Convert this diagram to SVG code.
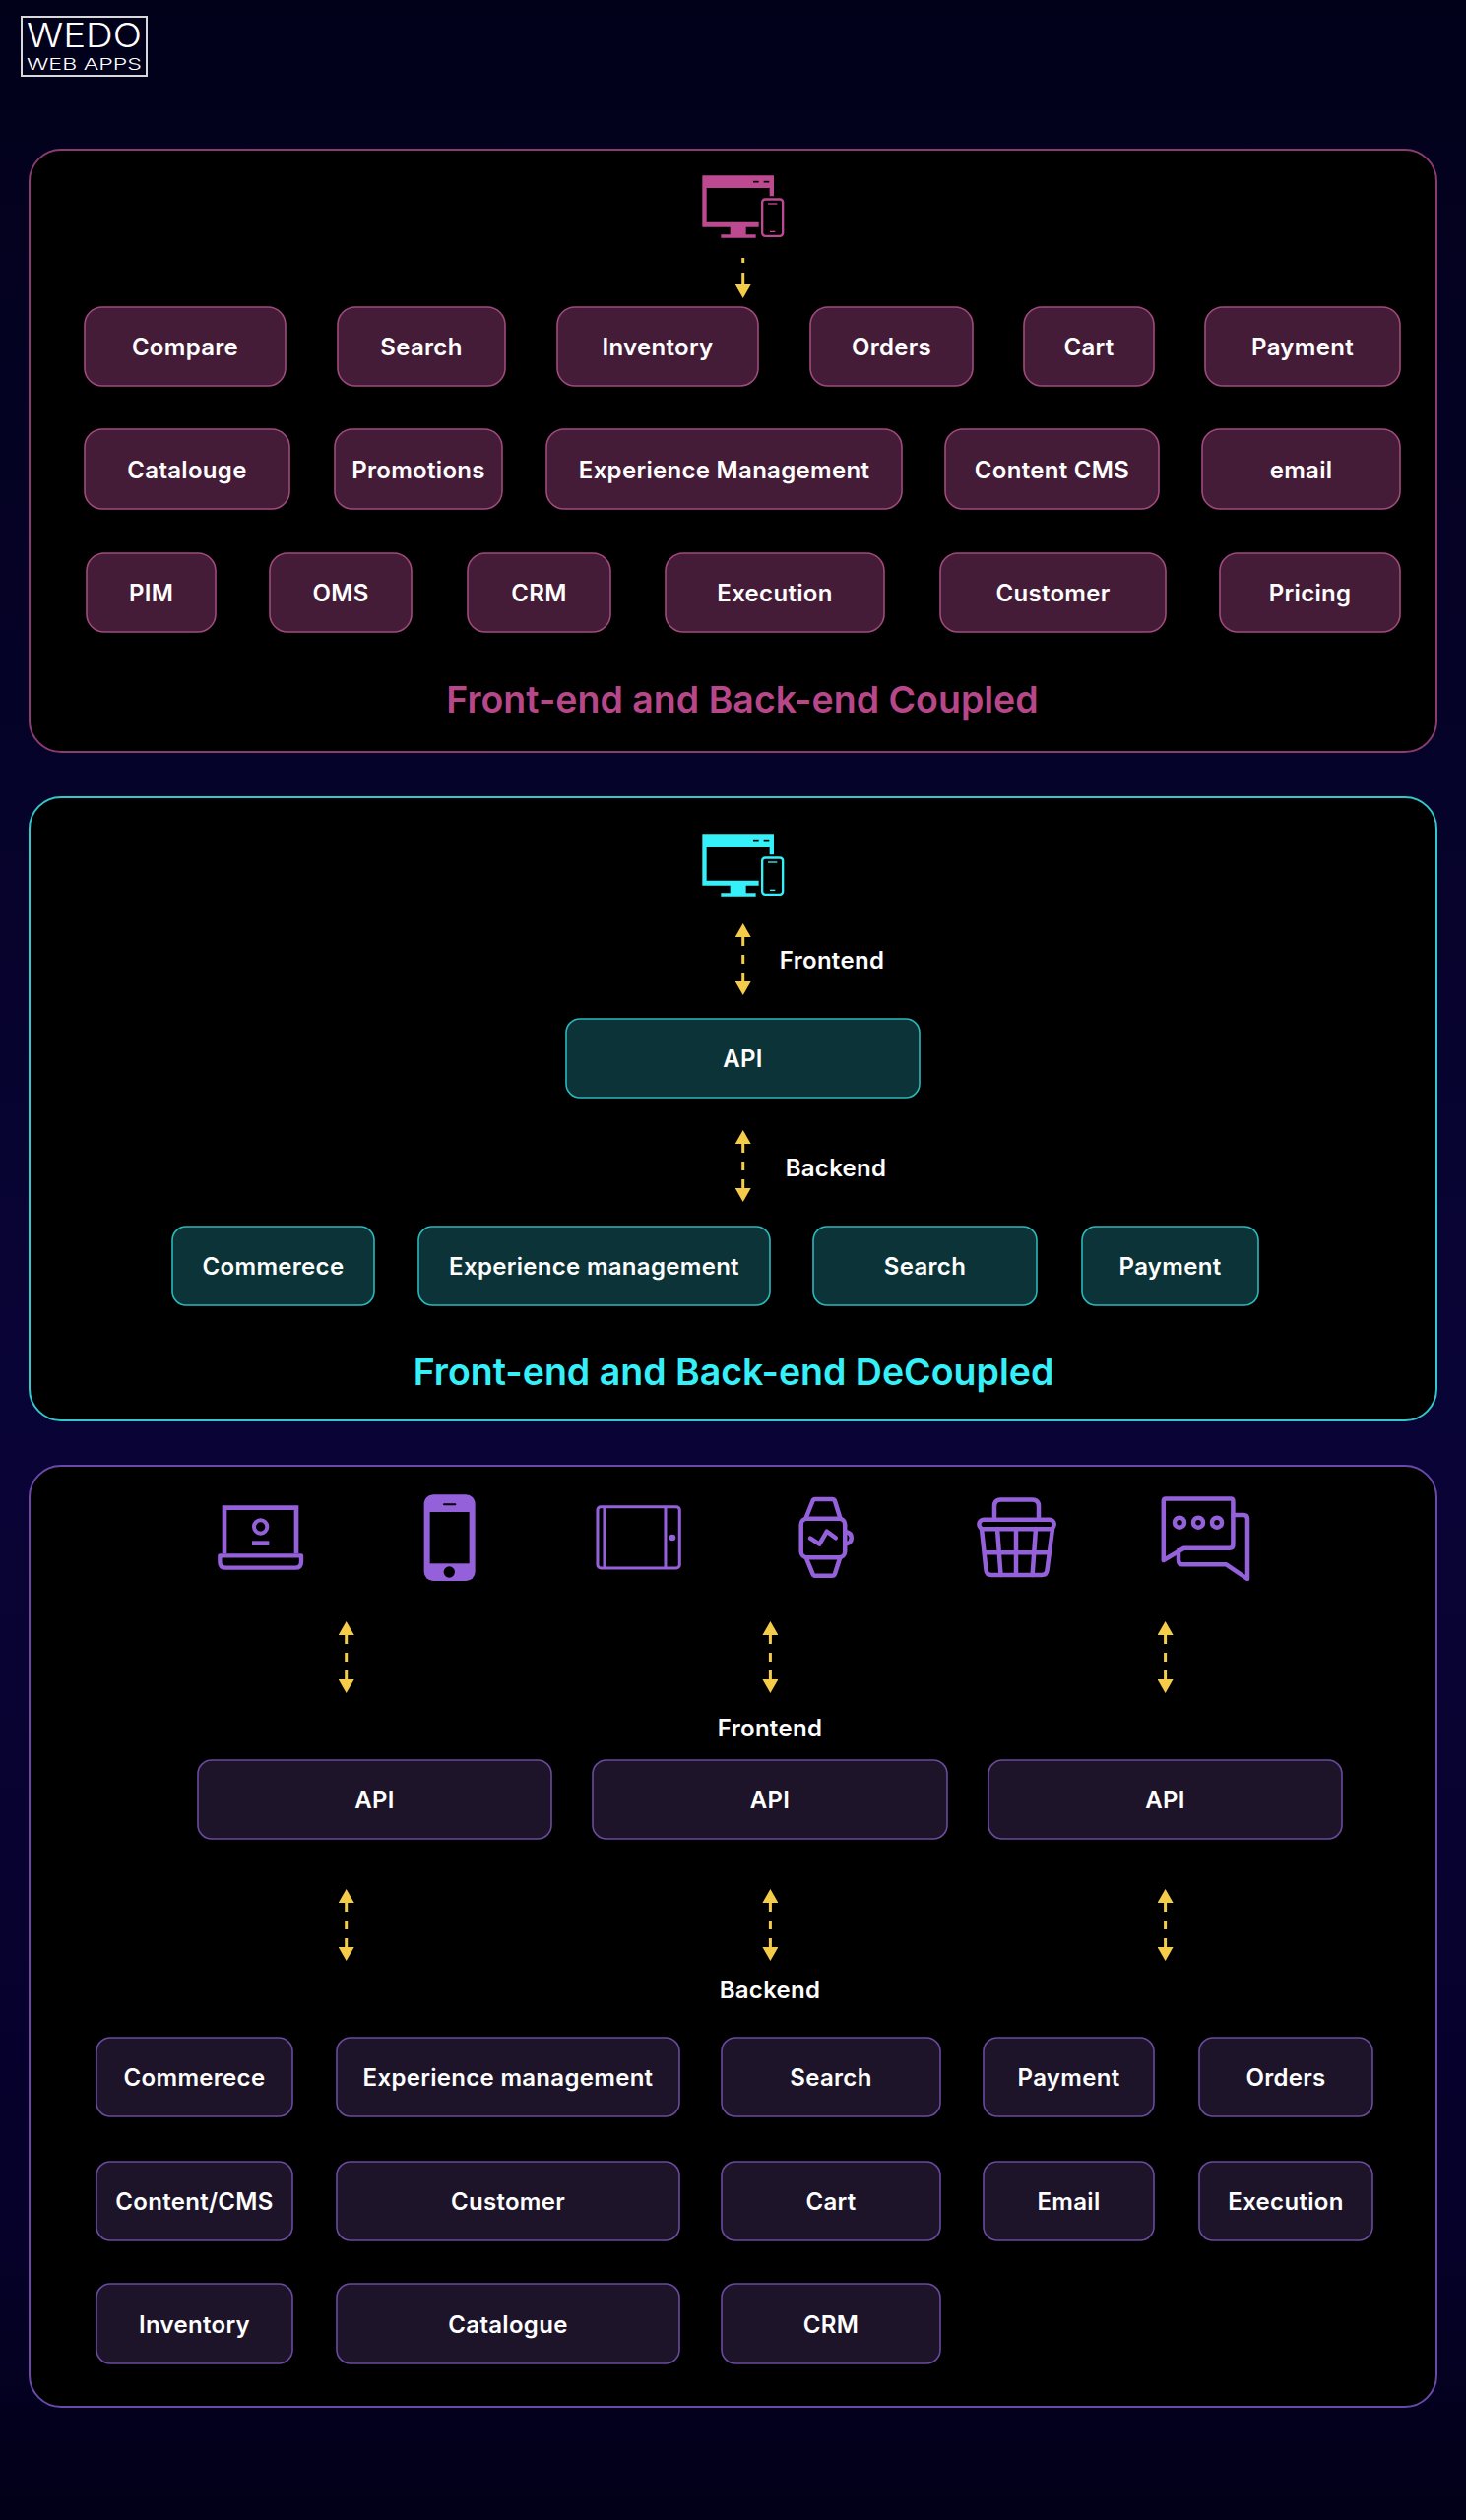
<svg xmlns="http://www.w3.org/2000/svg" width="1489" height="2560" viewBox="0 0 1489 2560">
<defs>
<linearGradient id="bgv" x1="0" y1="0" x2="0" y2="1"><stop offset="0" stop-color="#02011a"/><stop offset="0.55" stop-color="#090436"/><stop offset="0.88" stop-color="#06012a"/><stop offset="1" stop-color="#020018"/></linearGradient>
<marker id="head" viewBox="0 0 14 16" markerUnits="userSpaceOnUse" markerWidth="14" markerHeight="16" refX="0" refY="8" orient="auto-start-reverse"><path d="M0 0L14 8L0 16Z" fill="#f5cb4a"/></marker>
<g id="devices">
<path d="M100 55H318V118H305V93H113V197H272V212H233V235H263V245H157V235H185V212H100Z"/>
<rect x="255" y="71.500" width="17" height="5" fill="#000"/><rect x="287" y="71.500" width="17" height="5" fill="#000"/>
<rect x="282.500" y="127.500" width="63" height="112" rx="9" fill="none" stroke="currentColor" stroke-width="7"/>
<rect x="300" y="139" width="28" height="4"/><rect x="306" y="224" width="16" height="4"/>
</g>
</defs>
<style>
text{font-family:"Inter","Liberation Sans",sans-serif;font-weight:600;fill:#fff;text-anchor:middle}
.l{font-size:24px;letter-spacing:.3px;transform:translateY(.8px)}
.t{font-size:37.500px}
.panel{fill:#000;stroke-width:2}
.bx{stroke-width:1.600}
.p .bx{fill:#451c38;stroke:#a04a7c}
.c .bx{fill:#0c3438;stroke:#2bb8bb}
.v .bx{fill:#1e1429;stroke:#6a4a9f}
.st{fill:none;stroke:#9461db;stroke-width:4.500;stroke-linejoin:round;stroke-linecap:round}
.fl{fill:#9461db}
.ar{fill:none;stroke:#f5cb4a;stroke-width:3;stroke-dasharray:9 9;marker-start:url(#head);marker-end:url(#head)}
</style>
<rect width="1489" height="2560" fill="url(#bgv)"/>

<g id="logo">
<rect x="22" y="17" width="127" height="60" fill="none" stroke="#d8d8dc" stroke-width="2"/>
<text x="85.500" y="48" font-size="34" textLength="117" lengthAdjust="spacingAndGlyphs" style="font-weight:300">WEDO</text>
<text x="85.500" y="71" font-size="16.500" textLength="117" lengthAdjust="spacingAndGlyphs" style="font-weight:300">WEB APPS</text>
</g>

<rect id="panel-coupled" class="panel" x="30" y="152" width="1429" height="612" rx="32" stroke="#8a3b70"/>
<rect id="panel-decoupled" class="panel" x="30" y="810" width="1429" height="633" rx="32" stroke="#33c6ca"/>
<rect id="panel-composable" class="panel" x="30" y="1489" width="1429" height="956" rx="32" stroke="#6a49a8"/>

<g id="connectors">
<line x1="754.700" y1="262" x2="754.700" y2="289" fill="none" stroke="#f5cb4a" stroke-width="3" stroke-dasharray="5 10 12" marker-end="url(#head)"/>
<line class="ar" x1="754.700" y1="952" x2="754.700" y2="997"/>
<line class="ar" x1="754.700" y1="1162" x2="754.700" y2="1207"/>
<line class="ar" x1="351.700" y1="1661" x2="351.700" y2="1706"/>
<line class="ar" x1="782.400" y1="1661" x2="782.400" y2="1706"/>
<line class="ar" x1="1183.600" y1="1661" x2="1183.600" y2="1706"/>
<line class="ar" x1="351.700" y1="1933" x2="351.700" y2="1978"/>
<line class="ar" x1="782.400" y1="1933" x2="782.400" y2="1978"/>
<line class="ar" x1="1183.600" y1="1933" x2="1183.600" y2="1978"/>
</g>

<g id="coupled" class="p">
<use id="icon-coupled" href="#devices" transform="translate(680 160) scale(.3333)" fill="#bd4a90" color="#bd4a90"/>
<g id="n-compare"><rect class="bx" x="86" y="312" width="204" height="80" rx="18"/><text class="l" x="188" y="360">Compare</text></g>
<g id="n-search"><rect class="bx" x="343" y="312" width="170" height="80" rx="18"/><text class="l" x="428" y="360">Search</text></g>
<g id="n-inventory"><rect class="bx" x="566" y="312" width="204" height="80" rx="18"/><text class="l" x="668" y="360">Inventory</text></g>
<g id="n-orders"><rect class="bx" x="823" y="312" width="165" height="80" rx="18"/><text class="l" x="905.500" y="360">Orders</text></g>
<g id="n-cart"><rect class="bx" x="1040" y="312" width="132" height="80" rx="18"/><text class="l" x="1106" y="360">Cart</text></g>
<g id="n-payment"><rect class="bx" x="1224" y="312" width="198" height="80" rx="18"/><text class="l" x="1323" y="360">Payment</text></g>
<g id="n-catalouge"><rect class="bx" x="86" y="436" width="208" height="81" rx="18"/><text class="l" x="190" y="485">Catalouge</text></g>
<g id="n-promotions"><rect class="bx" x="340" y="436" width="170" height="81" rx="18"/><text class="l" x="425" y="485">Promotions</text></g>
<g id="n-experience"><rect class="bx" x="555" y="436" width="361" height="81" rx="18"/><text class="l" x="735.500" y="485">Experience Management</text></g>
<g id="n-content"><rect class="bx" x="960" y="436" width="217" height="81" rx="18"/><text class="l" x="1068.500" y="485">Content CMS</text></g>
<g id="n-email"><rect class="bx" x="1221" y="436" width="201" height="81" rx="18"/><text class="l" x="1321.500" y="485">email</text></g>
<g id="n-pim"><rect class="bx" x="88" y="562" width="131" height="80" rx="18"/><text class="l" x="153.500" y="610">PIM</text></g>
<g id="n-oms"><rect class="bx" x="274" y="562" width="144" height="80" rx="18"/><text class="l" x="346" y="610">OMS</text></g>
<g id="n-crm"><rect class="bx" x="475" y="562" width="145" height="80" rx="18"/><text class="l" x="547.500" y="610">CRM</text></g>
<g id="n-execution"><rect class="bx" x="676" y="562" width="222" height="80" rx="18"/><text class="l" x="787" y="610">Execution</text></g>
<g id="n-customer"><rect class="bx" x="955" y="562" width="229" height="80" rx="18"/><text class="l" x="1069.500" y="610">Customer</text></g>
<g id="n-pricing"><rect class="bx" x="1239" y="562" width="183" height="80" rx="18"/><text class="l" x="1330.500" y="610">Pricing</text></g>
<text id="title-coupled" class="t" x="754" y="724" style="fill:#b8478a">Front-end and Back-end Coupled</text>
</g>

<g id="decoupled" class="c">
<use id="icon-decoupled" href="#devices" transform="translate(680 829) scale(.3333)" fill="#35f0f8" color="#35f0f8"/>
<text id="label-frontend-1" class="l" x="845" y="983">Frontend</text>
<g id="n-api-d"><rect class="bx" x="575" y="1035" width="359" height="80" rx="14"/><text class="l" x="754.500" y="1083">API</text></g>
<text id="label-backend-1" class="l" x="849" y="1194">Backend</text>
<g id="n-commerece-d"><rect class="bx" x="175" y="1246" width="205" height="80" rx="14"/><text class="l" x="277.500" y="1294">Commerece</text></g>
<g id="n-experience-d"><rect class="bx" x="425" y="1246" width="357" height="80" rx="14"/><text class="l" x="603.500" y="1294">Experience management</text></g>
<g id="n-search-d"><rect class="bx" x="826" y="1246" width="227" height="80" rx="14"/><text class="l" x="939.500" y="1294">Search</text></g>
<g id="n-payment-d"><rect class="bx" x="1099" y="1246" width="179" height="80" rx="14"/><text class="l" x="1188.500" y="1294">Payment</text></g>
<text id="title-decoupled" class="t" x="745" y="1407" style="fill:#35f0f8">Front-end and Back-end DeCoupled</text>
</g>

<g id="composable" class="v">
<g id="icon-laptop" transform="translate(200 1490) scale(.3333)">
<path class="st" style="stroke-width:14;stroke-linecap:butt;stroke-linejoin:miter" d="M84 265V125H303V265"/>
<path class="st" style="stroke-width:13" d="M70 271H318V290Q318 308 300 308H88Q70 308 70 290Z"/>
<circle cx="194" cy="183" r="20" fill="none" stroke="#9461db" stroke-width="12"/>
<rect class="fl" x="168" y="226" width="52" height="14"/>
</g>
<g id="icon-phone" transform="translate(200 1490) scale(.3333)">
<rect class="fl" x="692" y="85" width="156" height="263" rx="28"/>
<rect x="710" y="138" width="120" height="157" fill="#000"/>
<rect x="750" y="112" width="40" height="6" rx="3" fill="#000"/>
<circle cx="769" cy="321" r="17" fill="#000"/>
</g>
<g id="icon-tablet" transform="translate(200 1490) scale(.3333)">
<rect x="1221" y="122" width="250" height="187" rx="10" fill="none" stroke="#9461db" stroke-width="9"/>
<path d="M1242 122V309M1428 122V309" stroke="#9461db" stroke-width="9"/>
<circle class="fl" cx="1449" cy="216" r="10"/>
</g>
<g id="icon-watch" class="st">
<rect x="813.700" y="1542.700" width="44.500" height="39.500" rx="6"/>
<path d="M819 1541L825.400 1525Q826 1523 828 1523H845Q847.500 1523 848 1525L853 1541M819 1583L825.400 1598.700Q826 1600.700 828 1600.700H845Q847.500 1600.700 848 1598.700L853 1583"/>
<path d="M860.500 1556.500A6 6 0 0 1 860.500 1568"/>
<path d="M823 1562.700L832.300 1568.700L839.900 1555.700L848.800 1562.300"/>
</g>
<g id="icon-basket" class="st">
<path d="M1010 1541V1530Q1010 1523.500 1017 1523.500H1048Q1055 1523.500 1055 1530V1541"/>
<rect x="994.400" y="1543.700" width="76.300" height="9.600" rx="4.800"/>
<path d="M997 1553L1001.500 1595Q1002 1600 1007 1600H1058Q1063 1600 1063.500 1595L1069 1553"/>
<path d="M1013 1553L1016.500 1600M1032 1553V1600M1052 1553L1048.600 1600M1000 1577.300H1066"/>
</g>
<g id="icon-chat" class="st">
<path d="M1181.800 1585V1525Q1181.800 1522.500 1184 1522.500H1250Q1252.400 1522.500 1252.400 1525V1569Q1252.400 1572.700 1249 1572.700H1202.500Z"/>
<path d="M1252.400 1539H1263Q1267 1539 1267 1543V1604L1245.500 1589.300H1201Q1197 1589.300 1197 1585V1575"/>
<circle cx="1198" cy="1546.700" r="5"/><circle cx="1217" cy="1546.700" r="5"/><circle cx="1236" cy="1546.700" r="5"/>
</g>
<text id="label-frontend-2" class="l" x="782" y="1763">Frontend</text>
<g id="n-api-1"><rect class="bx" x="201" y="1788" width="359" height="80" rx="14"/><text class="l" x="380.500" y="1836">API</text></g>
<g id="n-api-2"><rect class="bx" x="602" y="1788" width="360" height="80" rx="14"/><text class="l" x="782" y="1836">API</text></g>
<g id="n-api-3"><rect class="bx" x="1004" y="1788" width="359" height="80" rx="14"/><text class="l" x="1183.500" y="1836">API</text></g>
<text id="label-backend-2" class="l" x="782" y="2029">Backend</text>
<g id="n-commerece-v"><rect class="bx" x="98" y="2070" width="199" height="80" rx="14"/><text class="l" x="197.500" y="2118">Commerece</text></g>
<g id="n-experience-v"><rect class="bx" x="342" y="2070" width="348" height="80" rx="14"/><text class="l" x="516" y="2118">Experience management</text></g>
<g id="n-search-v"><rect class="bx" x="733" y="2070" width="222" height="80" rx="14"/><text class="l" x="844" y="2118">Search</text></g>
<g id="n-payment-v"><rect class="bx" x="999" y="2070" width="173" height="80" rx="14"/><text class="l" x="1085.500" y="2118">Payment</text></g>
<g id="n-orders-v"><rect class="bx" x="1218" y="2070" width="176" height="80" rx="14"/><text class="l" x="1306" y="2118">Orders</text></g>
<g id="n-content-v"><rect class="bx" x="98" y="2196" width="199" height="80" rx="14"/><text class="l" x="197.500" y="2244">Content/CMS</text></g>
<g id="n-customer-v"><rect class="bx" x="342" y="2196" width="348" height="80" rx="14"/><text class="l" x="516" y="2244">Customer</text></g>
<g id="n-cart-v"><rect class="bx" x="733" y="2196" width="222" height="80" rx="14"/><text class="l" x="844" y="2244">Cart</text></g>
<g id="n-email-v"><rect class="bx" x="999" y="2196" width="173" height="80" rx="14"/><text class="l" x="1085.500" y="2244">Email</text></g>
<g id="n-execution-v"><rect class="bx" x="1218" y="2196" width="176" height="80" rx="14"/><text class="l" x="1306" y="2244">Execution</text></g>
<g id="n-inventory-v"><rect class="bx" x="98" y="2320" width="199" height="81" rx="14"/><text class="l" x="197.500" y="2369">Inventory</text></g>
<g id="n-catalogue-v"><rect class="bx" x="342" y="2320" width="348" height="81" rx="14"/><text class="l" x="516" y="2369">Catalogue</text></g>
<g id="n-crm-v"><rect class="bx" x="733" y="2320" width="222" height="81" rx="14"/><text class="l" x="844" y="2369">CRM</text></g>
</g>
</svg>
